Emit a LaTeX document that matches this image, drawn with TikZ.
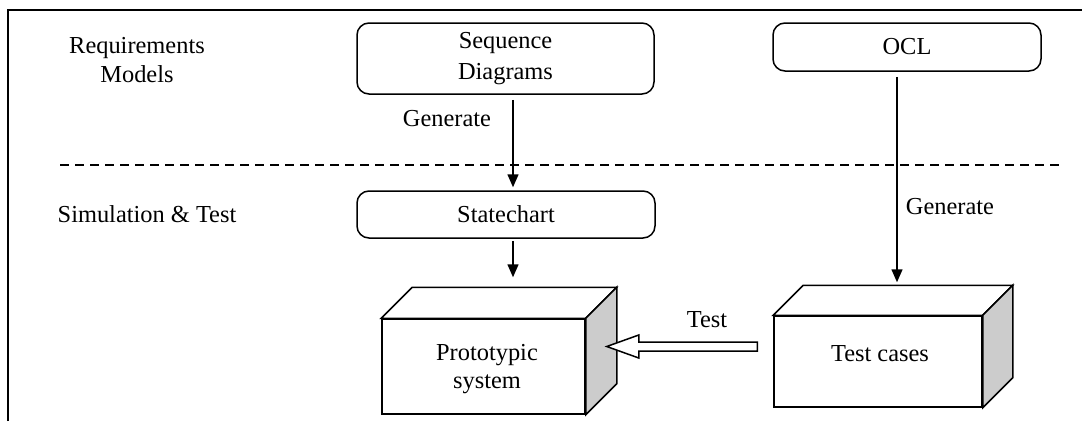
\documentclass[tikz,border=0pt]{standalone}
\usepackage{fontspec}
\setmainfont{Liberation Serif}
\usetikzlibrary{arrows.meta}
\begin{document}
\begin{tikzpicture}[x=1pt,y=-1pt,
  every node/.style={font=\fontsize{24.4pt}{29pt}\selectfont, inner sep=0pt},
  lbl/.style={align=center},
  rbox/.style={draw, line width=1.5pt, rounded corners=12pt, align=center},
  front/.style={draw, line width=1.5pt, fill=white, align=center},
  sideface/.style={draw, line width=1.5pt, fill=black!20, line join=miter},
  topface/.style={draw, line width=1.5pt, fill=white, line join=miter},
  arr/.style={line width=1.5pt, -{Triangle[length=13pt,width=11pt]}},
  hollow/.style={draw, line width=1.5pt, fill=white, line join=miter}]
\useasboundingbox (0,0) rectangle (1082,421);
% frame
\draw[line width=1.5pt] (8,421) -- (8,10) -- (1082,10);
% dashed separator
\draw[line width=1.5pt, dash pattern=on 9pt off 6pt] (60,165) -- (1064,165);
% lane labels
\node[lbl] (req) at (137,60) {Requirements\\Models};
\node[lbl] (sim) at (147,214) {Simulation \& Test};
% boxes
\node[rbox, minimum width=297pt, minimum height=71pt, font=\fontsize{24.4pt}{30.5pt}\selectfont] (seq) at (505.5,58.5) {Sequence\\Diagrams};
\node[rbox, minimum width=268pt, minimum height=48pt] (ocl) at (907,47) {OCL};
\node[rbox, minimum width=298pt, minimum height=47pt] (st) at (506,214.5) {Statechart};
% prototypic cuboid
\node[front, minimum width=203pt, minimum height=95pt] (proto) at (483.5,366.5) {};
\draw[topface] (proto.north west) -- ++(31,-31) -- ([shift={(31,-31)}]proto.north east) -- (proto.north east) -- cycle;
\draw[sideface] (proto.north east) -- ++(31,-31) -- ([shift={(31,-31)}]proto.south east) -- (proto.south east) -- cycle;
\coordinate (protoback) at ([shift={(31,-31)}]proto.north west);
\node[lbl, font=\fontsize{24.4pt}{27.5pt}\selectfont] (protot) at (487,369) {Prototypic\\system};
% test cases cuboid
\node[front, minimum width=208pt, minimum height=91pt] (tc) at (878,361.5) {};
\draw[topface] (tc.north west) -- ++(30,-30) -- ([shift={(30,-30)}]tc.north east) -- (tc.north east) -- cycle;
\draw[sideface] (tc.north east) -- ++(30,-30) -- ([shift={(30,-30)}]tc.south east) -- (tc.south east) -- cycle;
\coordinate (tcback) at ([shift={(30,-30)}]tc.north west);
\node (tct) at (880,354) {Test cases};
% arrows
\coordinate (cx1) at (513,0);
\coordinate (cx2) at (897,0);
\draw[arr, shorten <=5pt, shorten >=3pt] (seq.south -| cx1) -- (st.north -| cx1);
\draw[arr, shorten <=2pt, shorten >=10pt] (st.south -| cx1) -- (protoback -| cx1);
\draw[arr, shorten <=5pt, shorten >=3pt] (ocl.south -| cx2) -- (tcback -| cx2);
% hollow arrow from test cases to prototypic system
\coordinate (ha) at ([shift={(-16,0)}]tc.west |- 0,346.5);
\coordinate (hb) at ([shift={(21,0)}]proto.east |- 0,346.5);
\draw[hollow] ([shift={(0,-4.5)}]ha) -- ([shift={(32,-4.5)}]hb) -- ([shift={(32,-11.5)}]hb) -- (hb) -- ([shift={(32,11.5)}]hb) -- ([shift={(32,4.5)}]hb) -- ([shift={(0,4.5)}]ha) -- cycle;
% labels
\node (g1) at (447,119) {Generate};
\node (g2) at (950,207) {Generate};
\node (tl) at (707,320) {Test};
\end{tikzpicture}
\end{document}
